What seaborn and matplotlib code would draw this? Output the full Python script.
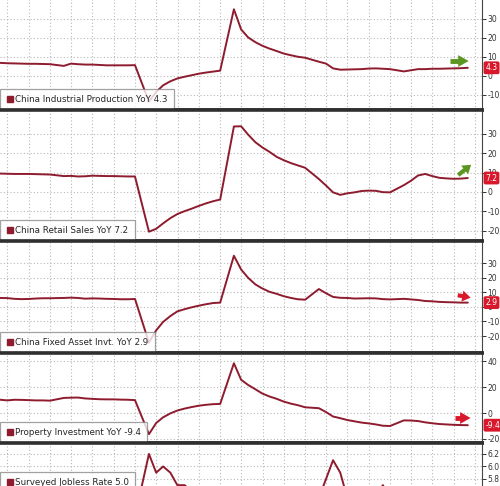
import pandas as pd
import matplotlib
matplotlib.use("Agg")
import matplotlib.pyplot as plt
import seaborn as sns
from matplotlib.lines import Line2D

sns.set_style("white")
plt.rcParams["font.family"] = ["DejaVu Sans"]
plt.rcParams["axes.unicode_minus"] = False

# monthly YTD releases, Apr 2018 - Nov 2023 (no January prints)
months = pd.date_range("2018-04-01", "2023-11-01", freq="MS")
months = months[months.month != 1] + pd.offsets.MonthEnd(0)

ip = [6.9, 6.9, 6.7, 6.6, 6.5, 6.4, 6.4, 6.3, 6.2,
      5.3, 6.5, 6.2, 6.0, 6.0, 5.8, 5.6, 5.6, 5.6, 5.6, 5.7,
      -13.5, -8.4, -4.9, -2.8, -1.3, -0.4, 0.4, 1.2, 1.8, 2.3, 2.8,
      35.1, 24.5, 20.3, 17.8, 15.9, 14.4, 13.1, 11.8, 10.9, 10.1, 9.6,
      7.5, 6.5, 4.0, 3.3, 3.4, 3.5, 3.6, 3.9, 4.0, 3.8, 3.6,
      2.4, 3.0, 3.6, 3.6, 3.8, 3.8, 3.9, 4.0, 4.1, 4.3]
retail = [9.6, 9.5, 9.4, 9.3, 9.3, 9.3, 9.2, 9.1, 9.0,
          8.2, 8.3, 8.0, 8.1, 8.4, 8.3, 8.2, 8.2, 8.1, 8.0, 8.0,
          -20.5, -19.0, -16.2, -13.5, -11.4, -9.9, -8.6, -7.2, -5.9, -4.8, -3.9,
          33.8, 33.9, 29.6, 25.7, 23.0, 20.7, 18.1, 16.4, 14.9, 13.7, 12.5,
          6.7, 3.3, -0.2, -1.5, -0.7, -0.2, 0.5, 0.7, 0.6, -0.1, -0.2,
          3.5, 5.8, 8.5, 9.3, 8.2, 7.3, 7.0, 6.8, 6.9, 7.2]
fai = [7.0, 6.1, 6.0, 5.5, 5.3, 5.4, 5.7, 5.9, 5.9,
       6.1, 6.3, 6.1, 5.6, 5.8, 5.7, 5.5, 5.4, 5.2, 5.2, 5.4,
       -24.5, -16.1, -10.3, -6.3, -3.1, -1.6, -0.3, 0.8, 1.8, 2.6, 2.9,
       35.0, 25.6, 19.9, 15.4, 12.6, 10.3, 8.9, 7.3, 6.1, 5.2, 4.9,
       12.2, 9.3, 6.8, 6.2, 6.1, 5.7, 5.8, 5.9, 5.8, 5.3, 5.1,
       5.5, 5.1, 4.7, 4.0, 3.8, 3.4, 3.2, 3.1, 2.9, 2.9]
prop = [10.3, 10.2, 9.7, 10.2, 10.1, 9.9, 9.7, 9.7, 9.5,
        11.6, 11.8, 11.9, 11.2, 10.9, 10.6, 10.5, 10.5, 10.3, 10.2, 9.9,
        -16.3, -7.7, -3.3, -0.3, 1.9, 3.4, 4.6, 5.6, 6.3, 6.8, 7.0,
        38.3, 25.6, 21.6, 18.3, 15.0, 12.7, 10.9, 8.8, 7.2, 6.0, 4.4,
        3.7, 0.7, -2.7, -4.0, -5.4, -6.4, -7.4, -8.0, -8.8, -9.8, -10.0,
        -5.7, -5.8, -6.2, -7.2, -7.9, -8.5, -8.8, -9.1, -9.3, -9.4]
jobless = [4.9, 4.8, 4.8, 5.1, 5.0, 4.9, 4.9, 4.8, 4.9,
           5.3, 5.2, 5.0, 5.0, 5.1, 5.3, 5.2, 5.2, 5.1, 5.1, 5.2,
           6.2, 5.9, 6.0, 5.9, 5.7, 5.7, 5.6, 5.4, 5.3, 5.2, 5.2,
           5.5, 5.3, 5.1, 5.0, 5.0, 5.1, 5.1, 4.9, 4.9, 5.0, 5.1,
           5.5, 5.8, 6.1, 5.9, 5.5, 5.4, 5.3, 5.5, 5.5, 5.7, 5.5,
           5.6, 5.3, 5.2, 5.2, 5.2, 5.3, 5.2, 5.0, 5.0, 5.0]

names = ["China Industrial Production YoY", "China Retail Sales YoY",
         "China Fixed Asset Invt. YoY", "Property Investment YoY",
         "Surveyed Jobless Rate"]
series = [ip, retail, fai, prop, jobless]

LINE = "#8e1b2e"
RED = "#d7192b"
GREEN = "#5a9621"

W, H = 500, 486
fig = plt.figure(figsize=(5.0, 4.86), dpi=100)

# panel pixel extents (top, bottom), y-limits, ticks
panels = [
    ((-5, 110), (-17.9, 42.6), [-10, 0, 10, 20, 30]),
    ((110, 241), (-25.3, 42.3), [-20, -10, 0, 10, 20, 30]),
    ((241, 353), (-31.6, 45.1), [-20, -10, 0, 10, 20, 30]),
    ((353, 443), (-23.1, 46.2), [-20, 0, 20, 40]),
    ((443, 560), (4.5, 6.376), [4.6, 4.8, 5.0, 5.2, 5.4, 5.6, 5.8, 6.0, 6.2]),
]
quarters = pd.date_range("2018-07-01", "2024-01-01", freq="QS")

axes = []
for (top, bot), ylim, ticks in panels:
    ax = fig.add_axes([0, 1 - bot / H, 482 / W, (bot - top) / H])
    axes.append(ax)
    ax.set_xlim(pd.Timestamp("2018-05-30"), pd.Timestamp("2024-01-30"))
    ax.set_ylim(*ylim)
    ax.set_yticks(ticks)
    ax.set_xticks(quarters)
    ax.tick_params(axis="x", length=0, labelbottom=False)
    ax.tick_params(axis="y", left=False, labelleft=False, right=True, labelright=True,
                   direction="out", length=3, width=0.7, pad=1, labelsize=5.5,
                   colors="#333333")
    ax.grid(True, color="#b8b8b8", linestyle=(0, (1, 2)), linewidth=0.8)
    ax.spines["left"].set_visible(False)
    for s in ("top", "bottom"):
        ax.spines[s].set_linewidth(2.6)
        ax.spines[s].set_color("#2f2f2f")
    ax.spines["right"].set_linewidth(0.8)
    ax.spines["right"].set_color("#444444")

for i, (ax, vals, name) in enumerate(zip(axes, series, names)):
    sns.lineplot(x=months, y=vals, ax=ax, color=LINE, linewidth=1.4, legend=False)
    ax.set_xlabel("")
    ax.set_ylabel("")
    last = vals[-1]
    handle = Line2D([], [], marker="s", color=LINE, linestyle="none", markersize=5)
    opts = dict(borderaxespad=0, fontsize=6.3, handletextpad=0.15,
                handlelength=0.9, borderpad=0.7, fancybox=False)
    if i < 4:
        leg = ax.legend([handle], [f"{name} {last:.1f}"], loc="lower left", **opts)
    else:
        leg = ax.legend([handle], [f"{name} {last:.1f}"], loc="upper left",
                        bbox_to_anchor=(0, 0.752), **opts)
    leg.get_frame().set_edgecolor("#8a8a8a")
    leg.get_frame().set_linewidth(0.9)
    if i < 4:
        ax.annotate(f"{last:.1f}", xy=(1.0, last), xycoords=ax.get_yaxis_transform(),
                    xytext=(2.5, 0), textcoords="offset points", ha="left", va="center",
                    color="white", fontsize=5.5, annotation_clip=False, zorder=10,
                    bbox=dict(boxstyle="round,pad=0.25", fc=RED, ec="none"))

# trend arrows (axes fraction)
def dashed_arrow(ax, x0, x1, xh, y, color):
    ax.plot([x0, x1], [y, y], transform=ax.transAxes, color=color, lw=3.5,
            solid_capstyle="butt", zorder=6)
    ax.annotate("", xy=(xh, y), xytext=(xh - 0.014, y), xycoords="axes fraction",
                arrowprops=dict(arrowstyle="simple,head_width=0.85,head_length=0.75,tail_width=0.01",
                                color=color, lw=0), zorder=6)

def solid_arrow(ax, x0, y0, x1, y1, color):
    ax.annotate("", xy=(x1, y1), xytext=(x0, y0), xycoords="axes fraction",
                arrowprops=dict(arrowstyle="simple,head_width=0.8,head_length=0.6,tail_width=0.3",
                                color=color, lw=0), zorder=6)

dashed_arrow(axes[0], 0.934, 0.955, 0.978, 0.426, GREEN)
solid_arrow(axes[1], 0.946, 0.49, 0.982, 0.595, GREEN)
solid_arrow(axes[2], 0.944, 0.52, 0.982, 0.49, RED)
dashed_arrow(axes[3], 0.944, 0.96, 0.982, 0.278, RED)

fig.savefig("out.png", dpi=100)
